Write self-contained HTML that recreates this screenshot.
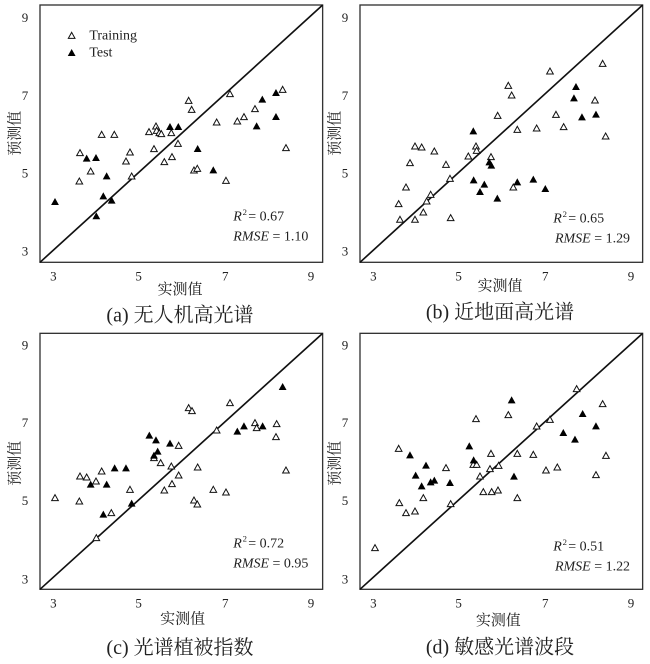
<!DOCTYPE html>
<html><head><meta charset="utf-8"><style>
html,body{margin:0;padding:0;background:#fff;}
svg{display:block;}
text{font-family:"Liberation Serif","Noto Serif CJK SC",serif;fill:#222;}
.tk{font-size:39px;text-anchor:middle;}
.cap{font-size:60px;text-anchor:middle;}
.ax{font-size:45px;text-anchor:middle;}
.st{font-size:42px;}
</style></head><body>
<svg width="650" height="664" viewBox="0 0 650 664" xmlns="http://www.w3.org/2000/svg">
<defs>
<polygon id="o" points="0,-11 10,7 -10,7" fill="#fff" stroke="#111" stroke-width="3"/>
<polygon id="f" points="0,-11 10,7 -10,7" fill="#000" stroke="#000" stroke-width="2"/>
</defs>
<rect width="650" height="664" fill="#fff"/>

<!-- Panel a -->
<g transform="translate(0,0) scale(0.3333)">
<rect x="120" y="15" width="848" height="772" fill="none" stroke="#333" stroke-width="4"/>
<line x1="120" y1="787" x2="968" y2="15" stroke="#111" stroke-width="5"/>
<text class="tk" x="160" y="842">3</text><text class="tk" x="416" y="842">5</text><text class="tk" x="676" y="842">7</text><text class="tk" x="933" y="842">9</text>
<text class="tk" x="75" y="66">9</text><text class="tk" x="75" y="300">7</text><text class="tk" x="75" y="533">5</text><text class="tk" x="75" y="766">3</text>
<text class="ax" x="540" y="882">实测值</text>
<text class="ax" transform="translate(58,400) rotate(-90)">预测值</text>
<text class="cap" x="540" y="965">(a) 无人机高光谱</text>
<use href="#o" x="215" y="108"/><text class="st" x="268" y="118">Training</text>
<use href="#f" x="215" y="160"/><text class="st" x="268" y="170">Test</text>
<text class="st" x="700" y="662" font-style="italic">R</text><text x="728" y="645" font-size="26">2</text><text class="st" x="745" y="662">= 0.67</text>
<text class="st" x="700" y="722"><tspan font-style="italic">RMSE</tspan> = 1.10</text>
<use href="#o" x="240" y="460"/><use href="#o" x="238" y="545"/><use href="#o" x="272" y="515"/><use href="#o" x="305" y="405"/><use href="#o" x="343" y="405"/><use href="#o" x="378" y="485"/><use href="#o" x="390" y="458"/><use href="#o" x="395" y="530"/><use href="#o" x="447" y="397"/><use href="#o" x="462" y="448"/><use href="#o" x="468" y="380"/><use href="#o" x="470" y="393"/><use href="#o" x="478" y="400"/><use href="#o" x="484" y="403"/><use href="#o" x="493" y="487"/><use href="#o" x="514" y="400"/><use href="#o" x="516" y="472"/><use href="#o" x="534" y="432"/><use href="#o" x="566" y="303"/><use href="#o" x="575" y="330"/><use href="#o" x="582" y="512"/><use href="#o" x="592" y="507"/><use href="#o" x="650" y="368"/><use href="#o" x="678" y="543"/><use href="#o" x="690" y="283"/><use href="#o" x="712" y="365"/><use href="#o" x="732" y="352"/><use href="#o" x="765" y="328"/><use href="#o" x="848" y="270"/><use href="#o" x="858" y="445"/>
<use href="#f" x="165" y="607"/><use href="#f" x="260" y="477"/><use href="#f" x="288" y="475"/><use href="#f" x="320" y="530"/><use href="#f" x="310" y="590"/><use href="#f" x="335" y="603"/><use href="#f" x="289" y="650"/><use href="#f" x="510" y="382"/><use href="#f" x="535" y="382"/><use href="#f" x="593" y="448"/><use href="#f" x="640" y="512"/><use href="#f" x="770" y="380"/><use href="#f" x="787" y="300"/><use href="#f" x="828" y="280"/><use href="#f" x="828" y="352"/>
</g>

<!-- Panel b -->
<g transform="translate(320,0) scale(0.3333)">
<rect x="120" y="15" width="848" height="772" fill="none" stroke="#333" stroke-width="4"/>
<line x1="120" y1="787" x2="968" y2="15" stroke="#111" stroke-width="5"/>
<text class="tk" x="160" y="842">3</text><text class="tk" x="416" y="842">5</text><text class="tk" x="676" y="842">7</text><text class="tk" x="933" y="842">9</text>
<text class="tk" x="75" y="66">9</text><text class="tk" x="75" y="300">7</text><text class="tk" x="75" y="533">5</text><text class="tk" x="75" y="766">3</text>
<text class="ax" x="540" y="872">实测值</text>
<text class="ax" transform="translate(58,400) rotate(-90)">预测值</text>
<text class="cap" x="540" y="955">(b) 近地面高光谱</text>
<text class="st" x="700" y="668" font-style="italic">R</text><text x="728" y="651" font-size="26">2</text><text class="st" x="745" y="668">= 0.65</text>
<text class="st" x="705" y="728"><tspan font-style="italic">RMSE</tspan> = 1.29</text>
<use href="#o" x="690" y="215"/><use href="#o" x="848" y="192"/><use href="#o" x="565" y="258"/><use href="#o" x="575" y="287"/><use href="#o" x="533" y="348"/><use href="#o" x="592" y="390"/><use href="#o" x="650" y="386"/><use href="#o" x="708" y="345"/><use href="#o" x="731" y="382"/><use href="#o" x="825" y="302"/><use href="#o" x="857" y="410"/><use href="#o" x="285" y="440"/><use href="#o" x="305" y="443"/><use href="#o" x="343" y="455"/><use href="#o" x="468" y="440"/><use href="#o" x="470" y="453"/><use href="#o" x="445" y="470"/><use href="#o" x="513" y="472"/><use href="#o" x="378" y="495"/><use href="#o" x="270" y="490"/><use href="#o" x="390" y="537"/><use href="#o" x="258" y="563"/><use href="#o" x="236" y="613"/><use href="#o" x="240" y="660"/><use href="#o" x="285" y="660"/><use href="#o" x="310" y="638"/><use href="#o" x="320" y="605"/><use href="#o" x="332" y="585"/><use href="#o" x="392" y="655"/><use href="#o" x="580" y="563"/>
<use href="#f" x="460" y="395"/><use href="#f" x="508" y="488"/><use href="#f" x="514" y="498"/><use href="#f" x="461" y="542"/><use href="#f" x="493" y="555"/><use href="#f" x="480" y="577"/><use href="#f" x="532" y="597"/><use href="#f" x="592" y="548"/><use href="#f" x="640" y="540"/><use href="#f" x="676" y="568"/><use href="#f" x="768" y="262"/><use href="#f" x="762" y="296"/><use href="#f" x="786" y="353"/><use href="#f" x="828" y="345"/>
</g>

<!-- Panel c -->
<g transform="translate(0,330) scale(0.3333)">
<rect x="120" y="10" width="848" height="768" fill="none" stroke="#333" stroke-width="4"/>
<line x1="120" y1="778" x2="968" y2="10" stroke="#111" stroke-width="5"/>
<text class="tk" x="160" y="832">3</text><text class="tk" x="416" y="832">5</text><text class="tk" x="676" y="832">7</text><text class="tk" x="933" y="832">9</text>
<text class="tk" x="75" y="58">9</text><text class="tk" x="75" y="291">7</text><text class="tk" x="75" y="525">5</text><text class="tk" x="75" y="761">3</text>
<text class="ax" x="548" y="880">实测值</text>
<text class="ax" transform="translate(58,400) rotate(-90)">预测值</text>
<text class="cap" x="540" y="972">(c) 光谱植被指数</text>
<text class="st" x="700" y="652" font-style="italic">R</text><text x="728" y="635" font-size="26">2</text><text class="st" x="745" y="652">= 0.72</text>
<text class="st" x="700" y="712"><tspan font-style="italic">RMSE</tspan> = 0.95</text>
<use href="#o" x="165" y="505"/><use href="#o" x="238" y="515"/><use href="#o" x="240" y="440"/><use href="#o" x="260" y="443"/><use href="#o" x="288" y="455"/><use href="#o" x="305" y="425"/><use href="#o" x="390" y="480"/><use href="#o" x="334" y="550"/><use href="#o" x="289" y="625"/><use href="#o" x="462" y="385"/><use href="#o" x="482" y="400"/><use href="#o" x="493" y="482"/><use href="#o" x="514" y="410"/><use href="#o" x="516" y="463"/><use href="#o" x="536" y="437"/><use href="#o" x="536" y="348"/><use href="#o" x="566" y="235"/><use href="#o" x="576" y="244"/><use href="#o" x="582" y="512"/><use href="#o" x="592" y="524"/><use href="#o" x="593" y="413"/><use href="#o" x="640" y="480"/><use href="#o" x="650" y="302"/><use href="#o" x="678" y="488"/><use href="#o" x="690" y="220"/><use href="#o" x="765" y="280"/><use href="#o" x="770" y="295"/><use href="#o" x="830" y="283"/><use href="#o" x="828" y="322"/><use href="#o" x="858" y="422"/>
<use href="#f" x="272" y="465"/><use href="#f" x="320" y="465"/><use href="#f" x="344" y="416"/><use href="#f" x="378" y="416"/><use href="#f" x="310" y="555"/><use href="#f" x="395" y="522"/><use href="#f" x="448" y="318"/><use href="#f" x="468" y="332"/><use href="#f" x="473" y="366"/><use href="#f" x="462" y="378"/><use href="#f" x="510" y="342"/><use href="#f" x="712" y="306"/><use href="#f" x="732" y="290"/><use href="#f" x="788" y="290"/><use href="#f" x="848" y="172"/>
</g>

<!-- Panel d -->
<g transform="translate(320,330) scale(0.3333)">
<rect x="120" y="10" width="848" height="768" fill="none" stroke="#333" stroke-width="4"/>
<line x1="120" y1="778" x2="968" y2="10" stroke="#111" stroke-width="5"/>
<text class="tk" x="160" y="832">3</text><text class="tk" x="416" y="832">5</text><text class="tk" x="676" y="832">7</text><text class="tk" x="933" y="832">9</text>
<text class="tk" x="75" y="58">9</text><text class="tk" x="75" y="291">7</text><text class="tk" x="75" y="525">5</text><text class="tk" x="75" y="761">3</text>
<text class="ax" x="535" y="885">实测值</text>
<text class="ax" transform="translate(58,400) rotate(-90)">预测值</text>
<text class="cap" x="540" y="970">(d) 敏感光谱波段</text>
<text class="st" x="700" y="662" font-style="italic">R</text><text x="728" y="645" font-size="26">2</text><text class="st" x="745" y="662">= 0.51</text>
<text class="st" x="705" y="722"><tspan font-style="italic">RMSE</tspan> = 1.22</text>
<use href="#o" x="165" y="655"/><use href="#o" x="238" y="520"/><use href="#o" x="258" y="550"/><use href="#o" x="285" y="545"/><use href="#o" x="310" y="505"/><use href="#o" x="236" y="357"/><use href="#o" x="378" y="415"/><use href="#o" x="392" y="523"/><use href="#o" x="468" y="268"/><use href="#o" x="460" y="405"/><use href="#o" x="470" y="405"/><use href="#o" x="480" y="440"/><use href="#o" x="490" y="487"/><use href="#o" x="513" y="372"/><use href="#o" x="515" y="487"/><use href="#o" x="510" y="418"/><use href="#o" x="536" y="408"/><use href="#o" x="534" y="482"/><use href="#o" x="565" y="256"/><use href="#o" x="592" y="372"/><use href="#o" x="592" y="505"/><use href="#o" x="640" y="375"/><use href="#o" x="650" y="290"/><use href="#o" x="678" y="422"/><use href="#o" x="690" y="270"/><use href="#o" x="712" y="413"/><use href="#o" x="770" y="178"/><use href="#o" x="848" y="223"/><use href="#o" x="858" y="378"/><use href="#o" x="828" y="436"/>
<use href="#f" x="270" y="377"/><use href="#f" x="287" y="438"/><use href="#f" x="318" y="408"/><use href="#f" x="305" y="470"/><use href="#f" x="332" y="458"/><use href="#f" x="343" y="453"/><use href="#f" x="390" y="460"/><use href="#f" x="448" y="350"/><use href="#f" x="461" y="392"/><use href="#f" x="575" y="212"/><use href="#f" x="582" y="441"/><use href="#f" x="730" y="310"/><use href="#f" x="765" y="330"/><use href="#f" x="788" y="253"/><use href="#f" x="828" y="290"/>
</g>
</svg>
</body></html>
